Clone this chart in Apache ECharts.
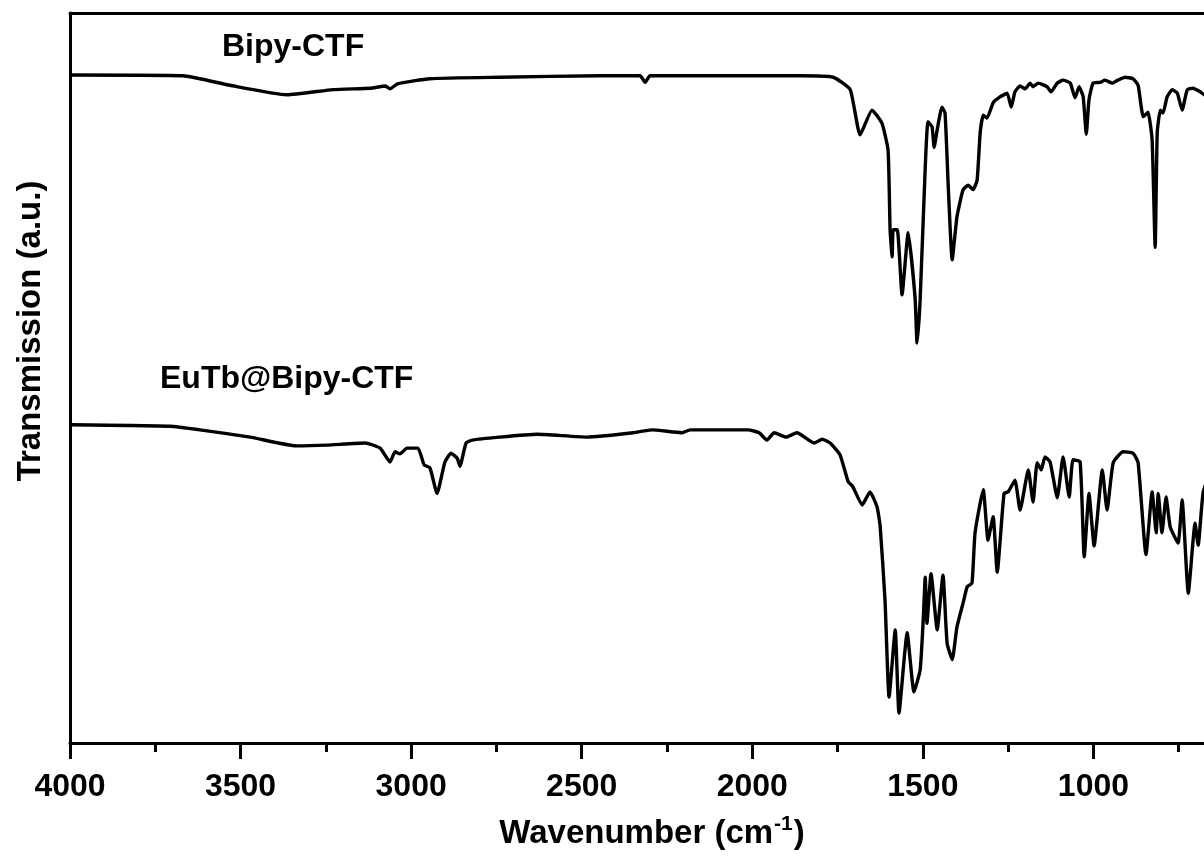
<!DOCTYPE html>
<html>
<head>
<meta charset="utf-8">
<title>FT-IR spectra</title>
<script src="https://cdn.jsdelivr.net/npm/echarts@6/dist/echarts.min.js"></script>
<style>
  html, body { margin: 0; padding: 0; background: #fff; }
  #chart { width: 1204px; height: 859px; }
</style>
</head>
<body>
<div id="chart"></div>
<script>
// FT-IR transmission spectra (arbitrary units), wavenumber in cm-1
const bipyWn = [4000, 3669, 3531, 3364, 3229, 3120, 3075, 3062, 3040, 2945, 2739, 2446, 2329, 2314, 2300, 2153, 1860,
  1763, 1713, 1684, 1649, 1620, 1602, 1596, 1590, 1587, 1575, 1561, 1543, 1523, 1517, 1508, 1493, 1485, 1473, 1467,
  1458, 1444, 1435, 1426, 1414, 1400, 1382, 1367, 1353, 1341, 1332, 1323, 1312, 1294, 1274, 1253, 1241, 1230, 1215,
  1200, 1186, 1177, 1162, 1136, 1124, 1106, 1089, 1068, 1054, 1042, 1030, 1021, 1013, 1001, 980, 966, 945, 928, 907,
  884, 869, 854, 840, 828, 819, 813, 804, 796, 784, 769, 754, 740, 725, 708, 687, 675, 640, 600];
const bipyT = [91.5, 91.4, 90.1, 88.8, 89.5, 89.7, 90.0, 89.6, 90.3, 91.0, 91.2, 91.4, 91.4, 90.5, 91.4, 91.4, 91.4,
  91.2, 89.5, 83.3, 86.7, 84.9, 81.2, 70.3, 66.6, 70.3, 70.3, 61.4, 69.9, 61.1, 54.8, 60.7, 78.9, 85.1, 84.4, 81.6,
  84.0, 87.1, 86.3, 76.7, 66.2, 72.1, 75.8, 76.4, 75.8, 77.1, 83.6, 86.0, 85.6, 87.7, 88.5, 89.0, 87.1, 89.2, 90.0,
  89.6, 90.4, 89.9, 90.4, 89.9, 89.2, 90.4, 90.8, 90.4, 88.4, 89.9, 88.5, 83.4, 88.1, 90.4, 90.5, 90.8, 90.4, 90.8, 91.2,
  91.0, 90.1, 85.8, 86.4, 82.6, 67.9, 83.6, 86.7, 86.3, 88.5, 89.5, 89.0, 86.7, 89.5, 89.7, 89.2, 88.8, 89.2, 89.5];

const eutbWn = [4000, 3707, 3619, 3472, 3337, 3247, 3135, 3091, 3062, 3047, 3033, 3012, 2980, 2962, 2945, 2924, 2901,
  2883, 2865, 2857, 2839, 2821, 2742, 2631, 2484, 2349, 2294, 2206, 2182, 2012, 1980, 1957, 1936, 1901, 1869, 1819,
  1795, 1772, 1743, 1719, 1705, 1678, 1655, 1634, 1625, 1611, 1599, 1581, 1570, 1546, 1526, 1508, 1499, 1493, 1488,
  1476, 1458, 1441, 1429, 1414, 1400, 1382, 1370, 1356, 1347, 1323, 1309, 1294, 1282, 1262, 1250, 1230, 1215, 1191,
  1177, 1165, 1153, 1142, 1127, 1106, 1089, 1071, 1060, 1039, 1027, 1013, 998, 974, 960, 942, 913, 884, 869, 846, 828,
  816, 810, 799, 787, 775, 752, 740, 722, 702, 693, 678, 650, 600];
const eutbT = [43.6, 43.4, 42.9, 41.9, 40.7, 40.8, 41.1, 40.4, 38.5, 39.9, 39.6, 40.4, 40.4, 38.1, 37.7, 34.2, 38.5,
  39.7, 39.0, 37.9, 41.1, 41.5, 41.9, 42.3, 41.9, 42.5, 42.9, 42.5, 42.9, 42.9, 42.5, 41.5, 42.5, 41.9, 42.5, 41.1,
  41.6, 41.1, 39.5, 35.8, 35.1, 32.6, 34.4, 32.3, 29.6, 19.6, 6.3, 15.5, 4.1, 15.1, 7.0, 10.0, 16.8, 22.7, 16.4,
  23.2, 15.5, 23.0, 13.7, 11.4, 15.9, 19.2, 21.4, 21.9, 28.8, 34.7, 27.8, 31.0, 23.4, 34.2, 34.4, 36.0, 31.9, 37.4,
  33.0, 38.4, 37.4, 39.2, 38.5, 33.6, 39.2, 33.7, 38.8, 38.5, 25.5, 34.2, 27.0, 37.4, 31.9, 38.4, 39.9, 39.7, 38.4, 25.8, 34.4,
  28.8, 34.2, 28.8, 33.7, 29.6, 27.4, 33.3, 20.5, 30.1, 27.1, 34.4, 37.4, 36.0];

const seriesNames = ['Bipy-CTF', 'EuTb@Bipy-CTF'];
const xTitle = 'Wavenumber (cm';
const xTitleSup = '-1';
const yTitle = 'Transmission (a.u.)';

const FONT = '"Liberation Sans", Arial, Helvetica, sans-serif';
const pairs = (xs, ys) => xs.map((x, i) => [x, ys[i]]);

const chart = echarts.init(document.getElementById('chart'), null, { renderer: 'canvas' });

const axisLine = { show: true, onZero: false, lineStyle: { color: '#000', width: 3 } };

chart.setOption({
  backgroundColor: '#fff',
  animation: false,
  // the frame runs on past the right edge of the page (down to 500 cm-1)
  grid: { left: 70, top: 13, width: 1194, height: 730, containLabel: false, outerBoundsMode: 'none' },
  xAxis: [{
    type: 'value',
    inverse: true,
    min: 500,
    max: 4000,
    interval: 500,
    axisLine: axisLine,
    axisTick: { show: true, inside: false, length: 16, lineStyle: { color: '#000', width: 3 } },
    minorTick: { show: true, splitNumber: 2, length: 9, lineStyle: { color: '#000', width: 3 } },
    splitLine: { show: false },
    minorSplitLine: { show: false },
    axisLabel: {
      margin: 28,
      color: '#000',
      fontFamily: FONT,
      fontWeight: 'bold',
      fontSize: 32,
      formatter: v => String(v)
    }
  }, {
    type: 'value',
    position: 'top',
    inverse: true,
    min: 500,
    max: 4000,
    axisLine: axisLine,
    axisTick: { show: false },
    axisLabel: { show: false },
    splitLine: { show: false }
  }],
  yAxis: {
    type: 'value',
    min: 0,
    max: 100,
    axisLine: axisLine,
    axisTick: { show: false },
    axisLabel: { show: false },
    splitLine: { show: false }
  },
  series: [{
    name: seriesNames[0],
    type: 'line',
    data: pairs(bipyWn, bipyT),
    showSymbol: false,
    smooth: 0.15,
    lineStyle: { color: '#000', width: 3.4 },
    itemStyle: { color: '#000' }
  }, {
    name: seriesNames[1],
    type: 'line',
    data: pairs(eutbWn, eutbT),
    showSymbol: false,
    smooth: 0.15,
    lineStyle: { color: '#000', width: 3.4 },
    itemStyle: { color: '#000' }
  }],
  graphic: [{
    type: 'text',
    x: 222, y: 47,
    style: {
      text: seriesNames[0], fill: '#000',
      font: 'bold 32px ' + FONT,
      textAlign: 'left', textVerticalAlign: 'middle'
    }
  }, {
    type: 'text',
    x: 160, y: 379,
    style: {
      text: seriesNames[1], fill: '#000',
      font: 'bold 32px ' + FONT,
      textAlign: 'left', textVerticalAlign: 'middle'
    }
  }, {
    type: 'text',
    x: 652, y: 832,
    style: {
      text: '{a|' + xTitle + '}{s|' + xTitleSup + '}{a|)}',
      fill: '#000',
      textAlign: 'center', textVerticalAlign: 'middle',
      rich: {
        a: { fontFamily: FONT, fontWeight: 'bold', fontSize: 33, lineHeight: 37, verticalAlign: 'bottom' },
        s: { fontFamily: FONT, fontWeight: 'bold', fontSize: 21, lineHeight: 37, verticalAlign: 'top', padding: [0, 1, 16, 1] }
      }
    }
  }, {
    type: 'text',
    x: 31, y: 331,
    rotation: Math.PI / 2,
    style: {
      text: yTitle, fill: '#000',
      font: 'bold 33px ' + FONT,
      textAlign: 'center', textVerticalAlign: 'middle'
    }
  }]
});
</script>
</body>
</html>
